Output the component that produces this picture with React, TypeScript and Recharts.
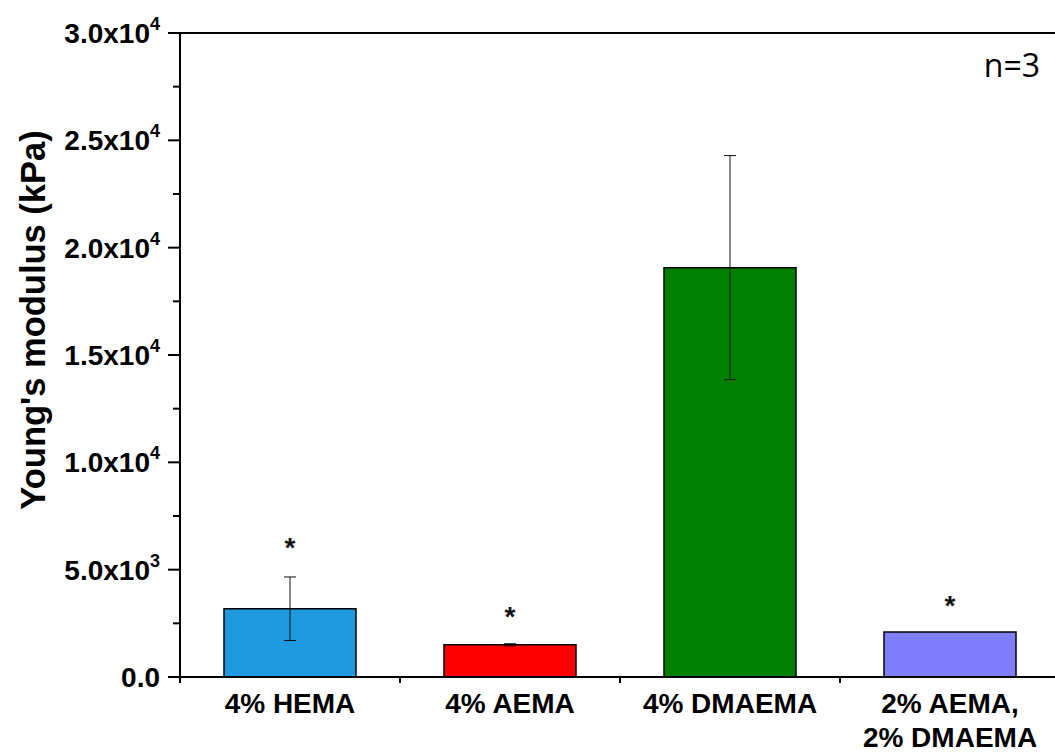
import React from "react";
import {
  ComposedChart,
  Bar,
  Cell,
  ErrorBar,
  Scatter,
  XAxis,
  YAxis,
  ReferenceLine,
} from "recharts";

const categories = ["4% HEMA", "4% AEMA", "4% DMAEMA", "2% AEMA,\n2% DMAEMA"];
const modulus = [3180, 1500, 19070, 2100];
const modulusSd = [1480, 50, 5220, 0];
const starLevel = [6200, 3000, null, 3480];
const barColors = ["#1f9ade", "#ff0000", "#008000", "#8080ff"];
const yTicks = [
  0, 2500, 5000, 7500, 10000, 12500, 15000, 17500, 20000, 22500, 25000, 27500,
  30000,
];

const FONT = "'Liberation Sans', Arial, sans-serif";

const data = categories.map((name, i) => ({
  name,
  value: modulus[i],
  err: modulusSd[i],
  star: starLevel[i],
}));

// "5.0x10^3" style labels
const YTick = (props: any) => {
  const { x, y, payload } = props;
  const v = payload.value as number;
  const major = v % 5000 === 0;
  const len = major ? 12 : 7;
  let label: React.ReactNode = null;
  if (major) {
    if (v === 0) {
      label = "0.0";
    } else {
      const exp = Math.floor(Math.log10(v));
      const mant = (v / Math.pow(10, exp)).toFixed(1);
      label = (
        <>
          <tspan>{mant}x10</tspan>
          <tspan dy={-13} fontSize={18}>
            {exp}
          </tspan>
        </>
      );
    }
  }
  return (
    <g>
      <line x1={x + 22 - len} x2={x + 22} y1={y} y2={y} stroke="#000" strokeWidth={2} />
      {major && (
        <text
          x={x + 2}
          y={y + 10}
          textAnchor="end"
          fontFamily={FONT}
          fontWeight="bold"
          fontSize={28}
          fill="#000"
        >
          {label}
        </text>
      )}
    </g>
  );
};

const XTick = (props: any) => {
  const { x, y, payload } = props;
  const half = payload.offset ?? 0;
  const lines = String(payload.value).split("\n");
  return (
    <g>
      <line x1={x - half} x2={x - half} y1={y} y2={y + 6} stroke="#000" strokeWidth={2} />
      <text
        textAnchor="middle"
        fontFamily={FONT}
        fontWeight="bold"
        fontSize={28}
        fill="#000"
      >
        {lines.map((l, i) => (
          <tspan key={i} x={x} y={y + 36 + i * 34}>
            {l}
          </tspan>
        ))}
      </text>
    </g>
  );
};

const Star = (props: any) => {
  const { cx, cy, payload } = props;
  if (payload.star == null || cy == null || isNaN(cy)) return <g />;
  return (
    <text
      x={cx}
      y={cy + 13}
      textAnchor="middle"
      fontFamily={FONT}
      fontWeight="bold"
      fontSize={28}
      fill="#111"
    >
      *
    </text>
  );
};

const App = () => {
  return (
    <div
      style={{
        position: "absolute",
        left: 0,
        top: 0,
        width: 1055,
        height: 753,
        overflow: "hidden",
        background: "#fff",
      }}
    >
      <ComposedChart
        width={1060}
        height={753}
        data={data}
        margin={{ top: 33, right: 0, bottom: 0, left: 0 }}
        barCategoryGap="20%"
      >
        <XAxis
          dataKey="name"
          height={76}
          interval={0}
          tickLine={false}
          tickSize={0}
          tickMargin={0}
          axisLine={{ stroke: "#000", strokeWidth: 2 }}
          tick={<XTick />}
        />
        <YAxis
          type="number"
          width={180}
          domain={[0, 30000]}
          ticks={yTicks}
          interval={0}
          tickLine={false}
          tickSize={12}
          tickMargin={10}
          axisLine={{ stroke: "#000", strokeWidth: 2 }}
          tick={<YTick />}
          label={{
            content: () => (
              <text
                x={45}
                y={320}
                transform="rotate(-90, 45, 320)"
                textAnchor="middle"
                fontFamily={FONT}
                fontWeight="bold"
                fontSize={34.5}
                fill="#000"
              >
                Young's modulus (kPa)
              </text>
            ),
          }}
        />
        <ReferenceLine y={30000} stroke="#000" strokeWidth={2} />
        <Bar dataKey="value" stroke="#000" strokeWidth={1.5} isAnimationActive={false}>
          {data.map((d, i) => (
            <Cell key={d.name} fill={barColors[i]} />
          ))}
          <ErrorBar
            dataKey="err"
            width={6}
            stroke="#111"
            strokeWidth={1}
            isAnimationActive={false}
          />
        </Bar>
        <Scatter dataKey="star" shape={<Star />} isAnimationActive={false} />
      </ComposedChart>
      <svg
        width={1055}
        height={753}
        style={{ position: "absolute", left: 0, top: 0, pointerEvents: "none" }}
      >
        <text
          x={1040}
          y={77}
          textAnchor="end"
          fontFamily="'Open Sans', 'DejaVu Sans', sans-serif"
          fontSize={32}
          fill="#000"
        >
          n=3
        </text>
      </svg>
    </div>
  );
};

export default App;
